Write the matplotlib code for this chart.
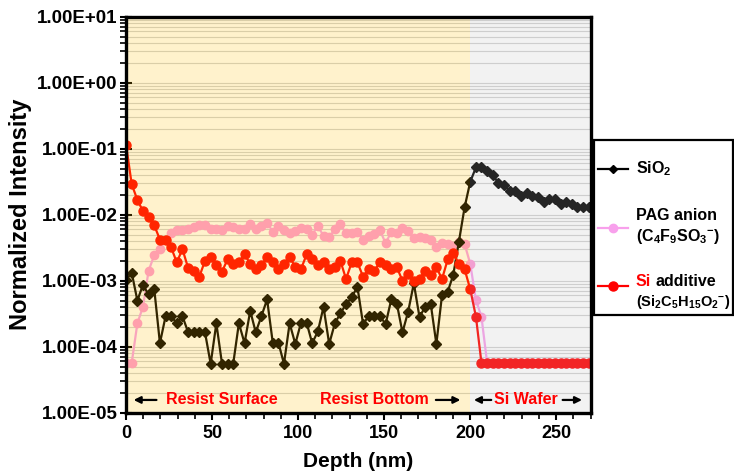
import matplotlib
matplotlib.use("Agg")
import matplotlib.pyplot as plt
from matplotlib.lines import Line2D
from matplotlib.patches import Rectangle
from matplotlib.ticker import FuncFormatter, LogLocator, MultipleLocator, NullFormatter

plt.rcParams['font.family'] = ['Liberation Sans', 'DejaVu Sans']
plt.rcParams['font.weight'] = 'bold'
plt.rcParams['mathtext.default'] = 'regular'

depth = [0.0, 3.3, 6.6, 9.8, 13.1, 16.4, 19.7, 23.0, 26.2, 29.5,
         32.8, 36.1, 39.4, 42.6, 45.9, 49.2, 52.5, 55.8, 59.0, 62.3,
         65.6, 68.9, 72.2, 75.4, 78.7, 82.0, 85.3, 88.6, 91.8, 95.1,
         98.4, 101.7, 105.0, 108.2, 111.5, 114.8, 118.1, 121.4, 124.6, 127.9,
         131.2, 134.5, 137.8, 141.0, 144.3, 147.6, 150.9, 154.2, 157.4, 160.7,
         164.0, 167.3, 170.6, 173.8, 177.1, 180.4, 183.7, 187.0, 190.2, 193.5,
         196.8, 200.1, 203.4, 206.6, 209.9, 213.2, 216.5, 219.8, 223.0, 226.3,
         229.6, 232.9, 236.2, 239.4, 242.7, 246.0, 249.3, 252.6, 255.8, 259.1,
         262.4, 265.7, 269.0]

sio2 = [0.00103, 0.00132, 0.0005, 0.00086, 0.00062, 0.00075, 0.000113, 0.00029, 0.00029, 0.000226,
        0.00029, 0.000165, 0.000165, 0.000165, 0.000165, 5.5e-5, 0.000226, 5.5e-5, 5.5e-5, 5.5e-5,
        0.000226, 0.000113, 0.00035, 0.000165, 0.00029, 0.00052, 0.000115, 0.000115, 5.5e-5, 0.000226,
        0.00011, 0.00023, 0.00023, 0.000113, 0.00017, 0.0004, 0.00011, 0.000226, 0.00032, 0.00044,
        0.00056, 0.00081, 0.00022, 0.00029, 0.00029, 0.00029, 0.00022, 0.00052, 0.00045, 0.000165,
        0.00034, 0.00091, 0.00028, 0.0004, 0.00045, 0.00011, 0.00061, 0.00068, 0.00122, 0.0039,
        0.0129, 0.0316, 0.052, 0.053, 0.046, 0.040, 0.030, 0.028, 0.023, 0.0225,
        0.0194, 0.0215, 0.0194, 0.0184, 0.0157, 0.017, 0.017, 0.0145, 0.0157, 0.0144,
        0.0132, 0.013, 0.0133]

pag = [5.7e-5, 5.7e-5, 0.000226, 0.0004, 0.0014, 0.00245, 0.0030, 0.0041, 0.0052, 0.0058,
       0.0058, 0.0060, 0.0066, 0.0070, 0.0069, 0.0060, 0.0060, 0.0058, 0.0067, 0.0066,
       0.0060, 0.0060, 0.0072, 0.0060, 0.0067, 0.0076, 0.0055, 0.0067, 0.0059, 0.0052,
       0.0057, 0.0063, 0.0060, 0.0050, 0.0067, 0.0048, 0.0046, 0.0060, 0.0072, 0.0052,
       0.0052, 0.0054, 0.0042, 0.0048, 0.0051, 0.0058, 0.0037, 0.0055, 0.0052, 0.0063,
       0.0056, 0.0044, 0.0046, 0.0044, 0.0041, 0.0032, 0.0037, 0.0036, 0.0034, 0.0039,
       0.0036, 0.0018, 0.00051, 0.000285, 5.7e-5, 5.7e-5, 5.7e-5, 5.7e-5, 5.7e-5, 5.7e-5,
       5.7e-5, 5.7e-5, 5.7e-5, 5.7e-5, 5.7e-5, 5.7e-5, 5.7e-5, 5.7e-5, 5.7e-5, 5.7e-5,
       5.7e-5, 5.7e-5, 5.7e-5]

si_add = [0.115, 0.029, 0.0167, 0.0114, 0.0091, 0.0069, 0.0042, 0.0042, 0.0032, 0.0019,
          0.0030, 0.00156, 0.00142, 0.00115, 0.0020, 0.0023, 0.0017, 0.00137, 0.0021, 0.0018,
          0.0019, 0.0025, 0.0018, 0.0015, 0.0017, 0.0023, 0.0019, 0.0015, 0.0018, 0.0023,
          0.0016, 0.0015, 0.0025, 0.0021, 0.0017, 0.0019, 0.0015, 0.0016, 0.0020, 0.00106,
          0.0019, 0.0019, 0.00115, 0.0015, 0.0014, 0.0019, 0.0017, 0.0015, 0.0016, 0.0010,
          0.00126, 0.00099, 0.00106, 0.00141, 0.00122, 0.0016, 0.00106, 0.0021, 0.0026, 0.0018,
          0.0015, 0.00074, 0.000285, 5.7e-5, 5.7e-5, 5.7e-5, 5.7e-5, 5.7e-5, 5.7e-5, 5.7e-5,
          5.7e-5, 5.7e-5, 5.7e-5, 5.7e-5, 5.7e-5, 5.7e-5, 5.7e-5, 5.7e-5, 5.7e-5, 5.7e-5,
          5.7e-5, 5.7e-5, 5.7e-5]

regions = [(0, 200, (1.0, 0.745, 0.0)), (200, 270, (0.745, 0.745, 0.745))]
x_ticks = [0, 50, 100, 150, 200, 250]

BLACK = '#000000'
PINK = '#F8A0EC'
PINK_M = '#FF99D8'
RED = '#FF0000'

fig = plt.figure(figsize=(7.34, 4.76), dpi=100)
ax = fig.add_axes([0.1717, 0.133, 0.8045 - 0.1717, 0.9649 - 0.133])

ax.set_yscale('log')
ax.set_xlim(0, 270)
ax.set_ylim(1e-5, 10)

ax.plot(depth, sio2, color=BLACK, lw=1.6, marker='D', ms=5, mfc=BLACK, mec=BLACK, zorder=4)
ax.plot(depth, pag, color=PINK, lw=1.6, marker='o', ms=6, mfc=PINK_M, mec=PINK_M, zorder=3)
ax.plot(depth, si_add, color=RED, lw=1.6, marker='o', ms=6.5, mfc=RED, mec=RED, zorder=5)

for x0, x1, c in regions:
    ax.axvspan(x0, x1, color=c, alpha=0.2, lw=0, zorder=8)

ax.grid(which='both', axis='y', color='#D2D2D2', lw=0.8, zorder=1)
ax.set_axisbelow(True)

ax.yaxis.set_major_locator(LogLocator(base=10, numticks=10))
ax.yaxis.set_minor_locator(LogLocator(base=10, subs=range(2, 10), numticks=20))
ax.yaxis.set_major_formatter(FuncFormatter(lambda v, p: f"{v:.2E}"))
ax.yaxis.set_minor_formatter(NullFormatter())
ax.set_xticks(x_ticks)
ax.xaxis.set_minor_locator(MultipleLocator(10))

ax.tick_params(axis='y', which='major', direction='inout', length=8, width=1.5, labelsize=13.5, pad=2)
ax.tick_params(axis='y', which='minor', direction='out', length=4, width=1.2)
ax.tick_params(axis='x', which='major', direction='out', length=5, width=1.5, labelsize=13, pad=4)
ax.tick_params(axis='x', which='minor', direction='out', length=4, width=1.2)
for lab in ax.get_xticklabels() + ax.get_yticklabels():
    lab.set_fontweight('bold')

for s in ax.spines.values():
    s.set_linewidth(2.4)
    s.set_zorder(12)

ax.set_xlabel('Depth (nm)', fontsize=15, fontweight='bold', labelpad=7)
ax.set_ylabel('Normalized Intensity', fontsize=17, fontweight='bold', labelpad=4)

# region annotations
ty = 1.56e-5
tkw = dict(color=RED, fontsize=11.5, fontweight='bold', ha='center', va='center', zorder=15)
ax.text(55.8, ty, 'Resist Surface', **tkw)
ax.text(144.3, ty, 'Resist Bottom', **tkw)
ax.text(232.7, ty, 'Si Wafer', **tkw)
akw = dict(arrowstyle='-|>', color='black', lw=1.6, mutation_scale=10)
for (xs, xe) in [(19.3, 2.8), (178.5, 196.0), (213.9, 200.6), (252.2, 266.7)]:
    ax.annotate('', xy=(xe, ty), xytext=(xs, ty), arrowprops=akw, zorder=15)

# legend (manual)
def fx(px):
    return px / 734.0

def fy(py):
    return 1 - py / 476.0

fig.patches.append(Rectangle((fx(594), fy(315)), fx(733) - fx(594), fy(140) - fy(315),
                             transform=fig.transFigure, facecolor='white', edgecolor='black',
                             lw=1.6, zorder=20))
leg = [(169, BLACK, BLACK, 'D', 4.5), (227.7, PINK, PINK, 'o', 6), (286, RED, RED, 'o', 6.5)]
for py, lc, mc, mk, ms in leg:
    fig.add_artist(Line2D([fx(598), fx(628)], [fy(py), fy(py)], transform=fig.transFigure,
                          color=lc, lw=1.6, zorder=21))
    fig.add_artist(Line2D([fx(613)], [fy(py)], transform=fig.transFigure, marker=mk, ms=ms,
                          mfc=mc, mec=mc, color=lc, zorder=22))
lkw = dict(fontsize=11.5, fontweight='bold', ha='left', va='center', zorder=23)
fig.text(fx(636), fy(169), r'SiO$_2$', **lkw)
fig.text(fx(636), fy(216), 'PAG anion', **lkw)
fig.text(fx(636), fy(237), r'(C$_4$F$_9$SO$_3$$^{-}$)', **lkw)
fig.text(fx(636), fy(281), 'Si', color=RED, fontsize=11.5, fontweight='bold', ha='left', va='center', zorder=24)
fig.text(fx(655), fy(281), 'additive', **lkw)
fig.text(fx(636), fy(302), r'(Si$_2$C$_5$H$_{15}$O$_2$$^{-}$)', fontsize=10.5, fontweight='bold',
         ha='left', va='center', zorder=23)

fig.savefig('out.png', dpi=100)
